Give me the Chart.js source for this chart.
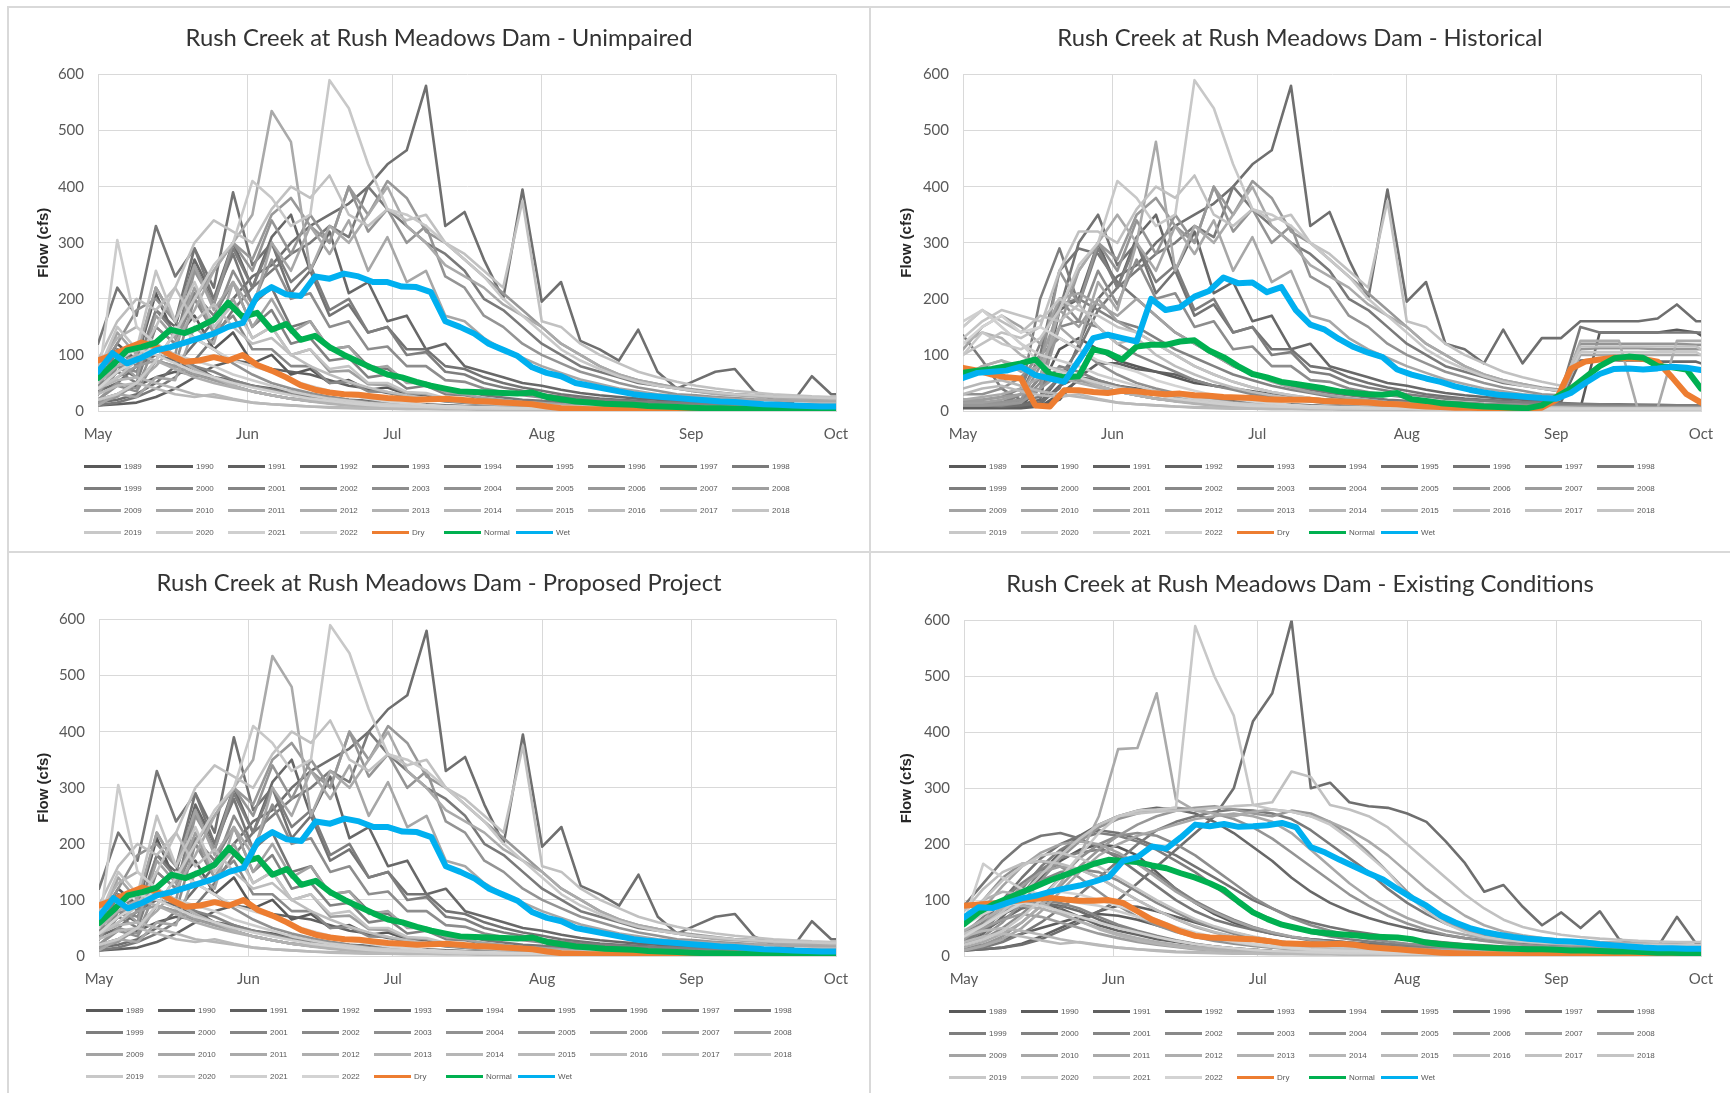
<!DOCTYPE html>
<html>
<head>
<meta charset="utf-8">
<script src="https://cdn.jsdelivr.net/npm/chart.js@4.4.1/dist/chart.umd.min.js"></script>
<style>
  body { margin: 0; width: 1730px; height: 1093px; overflow: hidden; position: relative; background: #fff; font-family: Lato, sans-serif; }
  .frame { position: absolute; box-sizing: border-box; border: 2px solid #d9d9d9; }
  .wrap { position: absolute; }
  .legend { position: absolute; display: grid; grid-template-columns: repeat(10, 72px); grid-auto-rows: 22px; }
  .item { display: flex; align-items: center; font-size: 8px; color: #595959; font-family: "Liberation Sans", sans-serif; white-space: nowrap; }
  .swatch { width: 37px; height: 3px; margin-right: 3px; }
</style>
</head>
<body>
<div class="frame" style="left:7px;top:6px;width:864px;height:547px"></div>
<div class="frame" style="left:869px;top:6px;width:870px;height:547px"></div>
<div class="frame" style="left:7px;top:551px;width:864px;height:550px"></div>
<div class="frame" style="left:869px;top:551px;width:870px;height:550px"></div>

<div class="wrap" style="left:8px;top:7px;width:862px;height:459px"><canvas id="unimpaired"></canvas></div>
<div class="wrap" style="left:870px;top:7px;width:860px;height:459px"><canvas id="historical"></canvas></div>
<div class="wrap" style="left:8px;top:552px;width:862px;height:459px"><canvas id="proposed"></canvas></div>
<div class="wrap" style="left:870px;top:552px;width:860px;height:459px"><canvas id="existing"></canvas></div>

<script>
// x axis: days after May 1
const monthDays = [0, 31, 61, 92, 123, 153];
const monthLabels = ['May', 'Jun', 'Jul', 'Aug', 'Sep', 'Oct'];
const yearLabels = ['1989', '1990', '1991', '1992', '1993', '1994', '1995', '1996', '1997', '1998',
    '1999', '2000', '2001', '2002', '2003', '2004', '2005', '2006', '2007', '2008',
    '2009', '2010', '2011', '2012', '2013', '2014', '2015', '2016', '2017', '2018',
    '2019', '2020', '2021', '2022'];

// sample days for the yearly traces and for the Dry / Normal / Wet traces
const grayDays = [0, 4, 8, 12, 16, 20, 24, 28, 32, 36, 40, 44, 48, 52, 56, 60, 64, 68, 72, 76,
    80, 84, 88, 92, 96, 100, 104, 108, 112, 116, 120, 124, 128, 132, 136, 140, 144, 148, 152, 153];
const keyDays = [0, 3, 6, 9, 12, 15, 18, 21, 24, 27, 30, 33, 36, 39, 42, 45, 48, 51, 54, 57,
    60, 63, 66, 69, 72, 75, 78, 81, 84, 87, 90, 93, 96, 99, 102, 105, 108, 111, 114, 117,
    120, 123, 126, 129, 132, 135, 138, 141, 144, 147, 150, 153];

// ---- Unimpaired (also Proposed Project) flows, cfs ----
const uni1989 = [60,120,90,210,130,170,110,140,85,100, 65,75,50,55,38,42,30,28,22,20, 18,15,13,12,10,9,8,7,6,6, 5,5,5,4,4,4,3,3,3,3];
const uni1990 = [20,30,45,60,70,65,60,50,45,40, 35,30,25,20,18,15,13,12,10,9, 8,7,6,5,5,4,4,3,3,3, 3,3,2,2,2,2,2,2,2,2];
const uni1991 = [10,12,15,25,40,60,80,90,85,75, 70,65,55,45,40,32,28,22,18,15, 13,11,10,9,8,7,6,6,5,5, 5,4,4,4,4,3,3,3,3,3];
const uni1992 = [40,70,90,110,95,80,60,45,35,28, 22,18,15,12,10,9,8,7,6,5, 5,4,4,4,3,3,3,3,2,2, 2,2,2,2,2,2,2,2,2,2];
const uni1993 = [30,80,60,180,150,270,200,300,220,310, 350,250,320,210,230,160,170,110,120,80, 70,60,50,45,38,32,28,25,22,20, 18,16,15,14,13,12,12,11,11,11];
const uni1994 = [35,50,80,100,90,70,60,55,45,38, 30,25,20,17,14,12,10,9,8,7, 6,6,5,5,4,4,4,3,3,3, 3,3,3,3,3,3,3,3,3,3];
const uni1995 = [15,20,30,50,80,120,160,200,240,260, 300,330,350,370,400,440,465,580,330,355, 270,200,395,195,230,125,110,90,145,70, 40,55,70,75,35,20,15,62,30,30];
const uni1996 = [40,110,90,220,160,290,220,390,260,300, 210,250,170,190,140,150,110,110,80,75, 60,50,42,36,30,26,22,20,18,16, 15,14,13,12,12,11,11,10,10,10];
const uni1997 = [120,220,170,330,240,290,200,280,190,220, 150,160,110,115,80,75,55,50,38,36, 28,24,20,18,16,14,13,12,11,10, 10,9,9,8,8,8,7,7,7,7];
const uni1998 = [10,15,25,40,60,90,130,180,220,250, 280,300,330,310,400,360,330,300,280,250, 200,180,150,120,100,80,70,60,50,45, 40,35,32,30,28,26,25,24,24,24];
const uni1999 = [30,70,50,150,120,260,190,290,220,300, 230,260,180,200,140,150,100,105,70,65, 50,42,36,30,26,22,20,18,16,15, 14,13,12,12,11,11,10,10,10,10];
const uni2000 = [50,110,80,180,140,210,170,230,150,180, 120,130,90,95,60,65,40,45,30,28, 22,19,16,14,12,11,10,9,8,8, 7,7,6,6,6,6,5,5,5,5];
const uni2001 = [45,70,100,110,95,80,70,55,45,38, 30,25,20,16,13,11,9,8,7,6, 5,5,4,4,4,3,3,3,3,3, 3,3,2,2,2,2,2,2,2,2];
const uni2002 = [30,80,70,150,120,200,140,170,110,110, 80,80,50,52,35,34,24,22,17,15, 12,10,9,8,7,6,6,5,5,5, 4,4,4,4,4,3,3,3,3,3];
const uni2003 = [20,45,35,90,80,200,160,250,190,270, 200,210,150,160,110,115,80,80,55,52, 40,34,28,24,20,17,15,13,12,11, 10,9,9,8,8,8,7,7,7,7];
const uni2004 = [70,120,180,200,160,130,110,85,65,50, 40,32,25,20,16,13,11,9,8,7, 6,5,5,4,4,4,3,3,3,3, 3,3,3,3,2,2,2,2,2,2];
const uni2005 = [20,50,40,120,100,250,190,300,250,340, 280,350,300,400,320,360,300,330,240,220, 170,150,120,100,85,70,60,50,42,36, 30,28,25,23,21,20,19,18,18,18];
const uni2006 = [15,25,50,90,140,200,250,300,270,350, 380,330,300,400,350,410,380,320,300,270, 240,210,180,150,120,100,80,65,55,48, 42,38,34,30,28,26,25,24,24,24];
const uni2007 = [40,60,80,90,80,65,55,45,35,28, 22,18,14,11,9,8,7,6,5,5, 4,4,4,3,3,3,3,3,2,2, 2,2,2,2,2,2,2,2,2,2];
const uni2008 = [30,90,60,170,130,220,140,200,130,150, 100,110,70,72,48,46,32,30,22,20, 16,13,11,10,9,8,7,6,6,5, 5,5,4,4,4,4,4,4,4,4];
const uni2009 = [60,140,100,220,160,260,180,230,150,200, 140,160,110,115,75,80,50,50,34,30, 23,19,16,14,12,11,10,9,8,8, 7,7,7,6,6,6,6,6,6,6];
const uni2010 = [10,30,25,60,55,150,120,230,180,300, 250,330,280,340,250,310,230,250,170,160, 130,110,95,80,68,56,48,40,35,30, 27,25,23,21,20,19,18,17,17,17];
const uni2011 = [20,30,50,80,120,180,250,300,350,535, 480,250,330,300,350,400,330,300,260,240, 220,190,170,150,120,100,80,65,55,48, 40,35,30,28,26,24,22,21,20,20];
const uni2012 = [50,80,100,90,75,60,50,42,35,28, 22,18,15,12,10,8,7,6,5,5, 4,4,4,3,3,3,3,3,3,3, 3,3,3,3,3,3,3,3,3,3];
const uni2013 = [80,130,150,120,95,75,60,45,35,28, 22,17,13,10,8,7,6,5,5,4, 4,4,3,3,3,3,3,3,3,3, 3,3,3,3,3,3,3,3,3,3];
const uni2014 = [40,55,60,50,40,30,25,20,15,12, 10,8,7,6,5,5,4,4,3,3, 3,3,3,3,2,2,2,2,2,2, 2,2,2,2,2,2,2,2,2,2];
const uni2015 = [30,45,50,40,30,25,30,22,15,12, 10,8,6,5,4,4,3,3,3,3, 2,2,2,2,2,2,2,2,2,2, 2,2,2,2,2,2,2,2,2,2];
const uni2016 = [90,160,200,180,220,160,190,150,120,130, 100,80,65,52,42,34,28,23,19,16, 13,11,10,9,8,7,7,6,6,6, 5,5,5,5,5,5,5,5,5,5];
const uni2017 = [40,60,90,150,220,300,340,320,300,360, 400,380,420,350,330,360,340,350,300,280, 250,220,375,160,150,120,100,85,70,60, 52,45,40,36,33,30,28,26,25,25];
const uni2018 = [70,150,110,250,160,230,150,190,130,150, 100,110,75,80,50,50,34,32,23,21, 16,14,12,10,9,8,8,7,7,6, 6,6,5,5,5,5,5,5,5,5];
const uni2019 = [20,30,50,90,140,200,260,300,410,380, 330,350,590,540,440,360,350,330,300,270, 240,200,170,140,110,90,75,62,52,45, 40,36,33,30,28,26,25,24,23,23];
const uni2020 = [50,305,150,120,100,90,80,65,55,45, 35,28,22,18,14,12,10,8,7,6, 5,5,4,4,4,3,3,3,3,3, 3,3,3,3,3,3,3,3,3,3];
const uni2021 = [60,90,110,100,85,70,60,50,42,35, 28,22,18,14,11,9,8,7,6,5, 5,4,4,4,3,3,3,3,3,3, 3,3,3,3,3,3,3,3,3,3];
const uni2022 = [40,70,90,120,150,130,110,90,80,70, 55,45,36,28,22,17,14,11,9,8, 7,6,5,5,5,4,4,4,4,4, 4,4,4,4,4,4,4,4,4,4];
const uniDry = [90,100,112,122,115,100,88,90,96,90, 100,82,72,60,46,38,33,30,29,26, 23,22,20,21,22,20,18,17,15,14, 12,8,5,4,3,3,2,2,2,2, 1,1,1,1,1,1,1,1,1,1, 1,1];
const uniNormal = [59,82,108,114,122,145,139,150,163,193, 168,175,145,155,127,134,114,100,88,76, 65,60,52,45,40,35,34,33,32,31, 33,25,21,17,15,13,12,11,9,8, 7,6,5,5,4,4,3,3,3,2, 2,2];
const uniWet = [70,103,85,95,108,114,122,130,138,150, 157,205,221,208,205,240,236,245,240,230, 230,222,221,212,160,150,138,120,109,98, 78,68,62,50,45,40,35,30,27,25, 23,21,19,17,16,14,12,11,10,9, 8,8];

// ---- Historical flows, cfs ----
const his1989 = [12,8,6,10,40,110,130,110,90,80, 70,60,50,45,40,35,30,25,22,20, 18,15,13,12,10,9,8,7,6,6, 5,5,5,140,140,140,140,145,140,135];
const his1990 = [5,5,5,5,8,30,55,50,45,40, 35,30,25,20,18,15,13,12,10,9, 8,7,6,5,5,4,4,3,3,3, 3,3,3,3,3,3,3,3,3,3];
const his1991 = [8,8,8,8,10,20,60,85,85,75, 70,65,55,45,40,32,28,22,18,15, 13,11,10,9,8,7,6,6,5,5, 5,4,4,4,4,3,3,3,3,3];
const his1992 = [10,10,10,10,12,45,60,45,35,28, 22,18,15,12,10,9,8,7,6,5, 5,4,4,4,3,3,3,3,2,2, 2,2,2,2,2,2,2,2,2,2];
const his1993 = [15,10,10,12,20,180,200,300,220,310, 350,250,320,210,230,160,170,110,120,80, 70,60,50,45,38,32,28,25,22,20, 18,16,90,92,90,90,88,88,88,85];
const his1994 = [10,10,10,12,15,60,60,55,45,38, 30,25,20,17,14,12,10,9,8,7, 6,6,5,5,4,4,4,3,3,3, 3,3,3,3,3,3,3,3,3,3];
const his1995 = [15,10,8,10,15,40,120,200,240,260, 300,330,350,370,400,440,465,580,330,355, 270,200,395,195,230,120,110,85,145,85, 130,130,160,160,160,160,165,190,160,160];
const his1996 = [10,10,12,20,60,180,300,350,260,300, 210,250,170,190,140,150,110,110,80,75, 60,50,42,36,30,26,22,20,18,16, 15,14,13,12,12,11,11,10,10,10];
const his1997 = [10,12,15,30,100,250,290,280,230,200, 170,140,120,100,80,65,55,45,38,32, 28,24,20,18,16,14,13,12,11,10, 10,9,9,8,8,8,7,7,7,7];
const his1998 = [135,90,40,20,25,60,110,180,220,250, 280,300,330,310,400,360,330,300,280,250, 200,180,150,120,100,80,70,60,50,45, 40,35,150,140,140,140,140,140,140,140];
const his1999 = [10,10,12,30,200,290,190,290,220,300, 230,260,180,200,140,150,100,105,70,65, 50,42,36,30,26,22,20,18,16,15, 14,13,12,12,11,11,10,10,10,10];
const his2000 = [20,20,25,40,120,190,200,180,160,150, 130,110,95,80,65,55,45,38,32,26, 22,19,16,14,12,11,10,9,8,8, 7,7,6,6,6,6,5,5,5,5];
const his2001 = [15,15,15,20,40,80,70,55,45,38, 30,25,20,16,13,11,9,8,7,6, 5,5,4,4,4,3,3,3,3,3, 3,3,2,2,2,2,2,2,2,2];
const his2002 = [10,10,12,20,60,150,160,150,120,100, 85,70,55,45,38,30,25,20,17,14, 12,10,9,8,7,6,6,5,5,5, 4,4,4,4,4,3,3,3,3,3];
const his2003 = [10,10,10,15,50,200,160,250,190,270, 200,210,150,160,110,115,80,80,55,52, 40,34,28,24,20,17,15,13,12,11, 10,9,9,8,8,8,7,7,7,7];
const his2004 = [30,30,40,60,100,130,110,85,65,50, 40,32,25,20,16,13,11,9,8,7, 6,5,5,4,4,4,3,3,3,3, 3,3,3,3,2,2,2,2,2,2];
const his2005 = [15,15,15,20,80,250,190,300,250,340, 280,350,300,400,320,360,300,330,240,220, 170,150,120,100,85,70,60,50,42,36, 30,28,120,120,120,120,120,120,118,118];
const his2006 = [10,10,12,15,40,150,250,300,270,350, 380,330,300,400,350,410,380,320,300,270, 240,210,180,150,120,100,80,65,55,48, 42,38,110,112,112,112,110,110,110,110];
const his2007 = [20,20,25,30,40,65,55,45,35,28, 22,18,14,11,9,8,7,6,5,5, 4,4,4,3,3,3,3,3,2,2, 2,2,2,2,2,2,2,2,2,2];
const his2008 = [15,15,20,30,90,180,150,200,160,140, 120,100,80,65,52,42,34,28,23,19, 16,13,11,10,9,8,7,6,6,5, 5,5,4,4,4,4,4,4,4,4];
const his2009 = [110,150,170,150,120,200,210,190,170,200, 170,140,120,100,80,65,52,42,34,28, 23,19,16,14,12,11,10,9,8,8, 7,7,7,6,6,6,6,6,6,6];
const his2010 = [60,80,90,70,80,150,120,230,180,300, 250,330,280,340,250,310,230,250,170,160, 130,110,95,80,68,56,48,40,35,30, 27,25,100,100,100,100,100,100,100,100];
const his2011 = [20,25,30,40,60,180,250,300,350,300, 480,250,330,300,350,400,330,300,260,240, 220,190,170,150,120,100,80,65,55,48, 40,35,125,125,125,0,5,125,125,125];
const his2012 = [60,80,90,80,60,60,50,42,35,28, 22,18,15,12,10,8,7,6,5,5, 4,4,4,3,3,3,3,3,3,3, 3,3,3,3,3,3,3,3,3,3];
const his2013 = [120,140,130,100,80,75,60,45,35,28, 22,17,13,10,8,7,6,5,5,4, 4,4,3,3,3,3,3,3,3,3, 3,3,3,3,3,3,3,3,3,3];
const his2014 = [40,50,55,45,35,30,25,20,15,12, 10,8,7,6,5,5,4,4,3,3, 3,3,3,3,2,2,2,2,2,2, 2,2,2,2,2,2,2,2,2,2];
const his2015 = [30,40,45,35,28,25,30,22,15,12, 10,8,6,5,4,4,3,3,3,3, 2,2,2,2,2,2,2,2,2,2, 2,2,2,2,2,2,2,2,2,2];
const his2016 = [150,180,160,140,170,160,190,150,120,130, 100,80,65,52,42,34,28,23,19,16, 13,11,10,9,8,7,7,6,6,6, 5,5,5,5,5,5,5,5,5,5];
const his2017 = [100,120,140,130,150,250,320,320,300,360, 400,380,420,350,330,360,340,350,300,280, 250,220,375,160,150,120,100,85,70,60, 52,45,115,115,115,115,115,115,115,110];
const his2018 = [130,160,180,170,160,200,180,170,150,140, 120,100,80,65,52,42,34,28,23,19, 16,14,12,10,9,8,8,7,7,6, 6,6,5,5,5,5,5,5,5,5];
const his2019 = [100,140,120,110,130,180,260,300,410,380, 330,350,590,540,440,360,350,330,300,270, 240,200,170,140,110,90,75,62,52,45, 40,36,105,105,105,105,105,105,105,100];
const his2020 = [150,180,150,120,100,90,80,65,55,45, 35,28,22,18,14,12,10,8,7,6, 5,5,4,4,4,3,3,3,3,3, 3,3,3,3,3,3,3,3,3,3];
const his2021 = [160,180,150,120,85,70,60,50,42,35, 28,22,18,14,11,9,8,7,6,5, 5,4,4,4,3,3,3,3,3,3, 3,3,3,3,3,3,3,3,3,3];
const his2022 = [120,150,170,140,150,130,110,90,80,70, 55,45,36,28,22,17,14,11,9,8, 7,6,5,5,5,4,4,4,4,4, 4,4,4,4,4,4,4,4,4,4];
const hisDry = [77,72,65,60,58,10,8,37,37,34, 32,36,35,32,30,31,28,27,25,24, 23,21,20,20,20,18,17,16,15,13, 12,10,8,7,6,6,5,5,5,5, 6,20,75,88,92,95,94,93,88,60, 30,15];
const hisNormal = [68,72,75,80,85,92,66,60,62,110, 104,92,115,118,118,124,126,108,96,80, 66,60,52,48,44,40,35,32,30,29, 32,21,18,14,12,10,8,7,6,5, 10,25,40,60,80,94,97,95,80,78, 74,40];
const hisWet = [59,68,70,72,79,64,58,52,90,130, 136,130,124,200,180,185,204,214,238,228, 229,212,221,180,154,145,128,114,104,96, 74,65,58,52,44,38,33,29,27,25, 23,22,32,50,66,75,76,74,76,79, 77,73];

// ---- Existing Conditions flows, cfs ----
const ext1989 = [30,50,80,110,140,170,190,200,195,180, 150,120,95,75,60,48,40,34,30,27, 24,22,20,18,16,14,13,12,11,10, 10,9,9,8,8,8,7,7,7,7];
const ext1990 = [15,20,30,40,50,60,70,75,72,65, 55,45,38,30,25,20,17,14,12,10, 9,8,7,6,6,5,5,4,4,4, 4,3,3,3,3,3,3,3,3,3];
const ext1991 = [10,12,15,22,35,50,65,80,90,88, 80,70,60,50,42,34,28,23,19,16, 14,12,10,9,8,7,7,6,6,5, 5,5,4,4,4,4,4,4,4,4];
const ext1992 = [35,55,75,90,95,85,70,55,45,38, 30,25,20,16,13,11,9,8,7,6, 5,5,4,4,4,3,3,3,3,3, 3,3,3,3,3,3,3,3,3,3];
const ext1993 = [20,40,70,110,150,185,215,235,250,260, 265,262,255,240,220,195,170,140,115,95, 80,68,58,50,43,37,32,28,25,22, 20,18,17,16,15,14,13,13,12,12];
const ext1994 = [30,45,65,85,95,90,80,65,52,42, 34,27,21,17,14,11,9,8,7,6, 5,5,4,4,4,4,3,3,3,3, 3,3,3,3,3,3,3,3,3,3];
const ext1995 = [10,12,15,20,30,45,60,80,100,130, 160,190,220,250,300,420,470,600,300,310, 275,268,265,255,240,205,166,115,127,88, 55,78,50,80,30,20,16,70,22,25];
const ext1996 = [30,60,100,140,175,200,215,225,220,210, 195,180,160,140,120,100,85,70,60,52, 45,40,35,30,27,24,21,19,17,16, 15,14,13,12,12,11,11,10,10,10];
const ext1997 = [90,130,170,200,215,220,210,195,175,150, 125,100,80,65,55,47,40,34,30,27, 24,21,19,17,15,14,13,12,11,10, 10,9,9,8,8,8,7,7,7,7];
const ext1998 = [10,15,25,40,60,85,110,140,170,200, 225,240,250,258,262,260,255,245,225,200, 175,150,120,95,75,58,45,36,30,26, 24,22,20,19,18,17,17,16,16,16];
const ext1999 = [25,45,80,120,160,190,210,220,215,205, 190,170,150,125,100,80,65,52,42,35, 30,26,22,19,17,15,13,12,11,10, 10,9,9,8,8,8,8,8,8,8];
const ext2000 = [40,70,100,130,155,175,185,190,180,165, 145,120,98,80,65,52,42,34,28,23, 19,16,14,12,10,9,8,8,7,7, 6,6,6,5,5,5,5,5,5,5];
const ext2001 = [40,60,80,95,100,95,85,70,56,45, 36,28,22,17,14,11,9,8,7,6, 5,5,4,4,4,3,3,3,3,3, 3,3,3,3,3,3,3,3,3,3];
const ext2002 = [30,50,80,110,135,150,155,150,135,115, 95,78,62,50,40,32,26,21,17,14, 12,10,9,8,7,6,6,5,5,5, 4,4,4,4,4,4,4,4,4,4];
const ext2003 = [20,30,50,75,105,140,175,200,215,220, 215,200,180,155,130,105,85,68,55,45, 37,31,26,22,19,16,14,13,12,11, 10,10,9,9,9,8,8,8,8,8];
const ext2004 = [60,100,140,165,170,160,140,115,90,70, 55,43,34,27,22,18,15,12,10,9, 8,7,6,5,5,4,4,4,4,3, 3,3,3,3,3,3,3,3,3,3];
const ext2005 = [20,35,60,95,135,175,205,230,245,255, 262,265,262,255,245,230,210,185,160,135, 110,90,72,58,47,38,32,27,23,20, 18,16,15,14,13,12,12,11,11,11];
const ext2006 = [10,20,35,60,90,125,160,190,215,235, 250,260,265,268,262,255,250,260,255,240, 215,185,150,115,85,62,46,36,30,26, 23,21,19,18,17,16,16,15,15,15];
const ext2007 = [35,50,65,75,70,60,50,40,32,25, 20,16,12,10,8,7,6,5,5,4, 4,4,3,3,3,3,3,3,2,2, 2,2,2,2,2,2,2,2,2,2];
const ext2008 = [30,55,90,125,150,160,155,140,120,100, 82,66,52,42,34,28,23,19,16,13, 11,10,9,8,7,6,6,5,5,5, 5,5,4,4,4,4,4,4,4,4];
const ext2009 = [55,85,125,160,185,200,205,200,185,165, 140,115,95,78,63,51,42,35,29,25, 21,18,16,14,12,11,10,9,9,8, 8,7,7,7,7,6,6,6,6,6];
const ext2010 = [10,18,30,50,80,115,150,180,200,215, 225,235,245,250,255,250,240,220,190,160, 130,105,85,68,55,45,38,32,28,25, 23,21,20,19,18,18,17,17,17,17];
const ext2011 = [15,25,40,60,90,130,180,250,370,372, 470,280,260,255,250,258,262,258,250,240, 225,205,180,150,120,95,72,55,44,37, 32,29,27,25,24,23,22,21,20,20];
const ext2012 = [45,65,85,90,85,75,62,50,40,32, 25,20,16,13,10,8,7,6,5,5, 4,4,4,3,3,3,3,3,3,3, 3,3,3,3,3,3,3,3,3,3];
const ext2013 = [70,100,115,110,95,78,62,48,37,28, 22,17,13,10,8,7,6,5,5,4, 4,4,3,3,3,3,3,3,3,3, 3,3,3,3,3,3,3,3,3,3];
const ext2014 = [35,45,50,45,38,30,24,19,15,12, 10,8,7,6,5,5,4,4,3,3, 3,3,3,3,2,2,2,2,2,2, 2,2,2,2,2,2,2,2,2,2];
const ext2015 = [25,35,40,35,28,22,25,20,15,12, 9,7,6,5,4,4,3,3,3,3, 2,2,2,2,2,2,2,2,2,2, 2,2,2,2,2,2,2,2,2,2];
const ext2016 = [80,120,150,165,170,165,155,140,120,100, 82,66,53,43,35,28,23,19,16,13, 11,10,9,8,7,7,6,6,6,6, 5,5,5,5,5,5,5,5,5,5];
const ext2017 = [40,55,80,110,145,180,210,235,250,255, 258,260,262,265,268,270,275,330,320,270, 262,250,230,200,170,140,110,85,65,52, 44,38,34,31,29,27,26,25,25,25];
const ext2018 = [65,100,135,160,180,185,175,160,140,120, 100,82,66,53,43,35,28,23,19,16, 14,12,10,9,8,8,7,7,6,6, 6,6,5,5,5,5,5,5,5,5];
const ext2019 = [20,30,45,70,100,140,180,220,250,260, 262,265,590,500,430,270,262,258,250,235, 210,180,150,110,80,58,43,34,29,26, 24,23,22,21,21,20,20,19,19,19];
const ext2020 = [60,165,140,120,110,100,95,90,80,70, 60,50,40,32,25,20,16,13,11,9, 8,7,6,5,5,4,4,4,3,3, 3,3,3,3,3,3,3,3,3,3];
const ext2021 = [55,75,90,95,90,80,70,60,50,42, 34,27,21,17,14,11,9,8,7,6, 5,5,4,4,4,3,3,3,3,3, 3,3,3,3,3,3,3,3,3,3];
const ext2022 = [35,55,75,95,110,115,110,100,90,78, 65,52,42,34,27,22,18,15,12,10, 9,8,7,6,6,5,5,5,4,4, 4,4,4,4,4,4,4,4,4,4];
const extDry = [90,92,94,97,100,103,104,101,99,99, 100,95,80,65,55,44,36,33,32,31, 30,27,23,22,21,21,22,20,16,14, 12,10,8,6,5,4,3,3,2,2, 2,2,1,1,1,1,1,1,1,1, 1,1];
const extNormal = [57,78,92,103,114,125,136,145,155,165, 172,170,168,162,157,148,140,130,118,97, 78,66,56,50,44,41,39,37,35,34, 33,30,24,21,19,17,15,14,13,12, 12,11,10,10,9,8,8,7,6,6, 5,5];
const extWet = [69,87,86,95,103,108,115,121,126,133, 141,170,177,196,192,212,235,232,236,231, 232,234,238,230,195,185,172,160,148,137, 120,104,90,72,60,50,43,38,34,31, 29,27,26,24,21,19,17,15,14,14, 13,13];

const uniYears = [uni1989, uni1990, uni1991, uni1992, uni1993, uni1994, uni1995, uni1996, uni1997, uni1998,
    uni1999, uni2000, uni2001, uni2002, uni2003, uni2004, uni2005, uni2006, uni2007, uni2008,
    uni2009, uni2010, uni2011, uni2012, uni2013, uni2014, uni2015, uni2016, uni2017, uni2018,
    uni2019, uni2020, uni2021, uni2022];
const hisYears = [his1989, his1990, his1991, his1992, his1993, his1994, his1995, his1996, his1997, his1998,
    his1999, his2000, his2001, his2002, his2003, his2004, his2005, his2006, his2007, his2008,
    his2009, his2010, his2011, his2012, his2013, his2014, his2015, his2016, his2017, his2018,
    his2019, his2020, his2021, his2022];
const extYears = [ext1989, ext1990, ext1991, ext1992, ext1993, ext1994, ext1995, ext1996, ext1997, ext1998,
    ext1999, ext2000, ext2001, ext2002, ext2003, ext2004, ext2005, ext2006, ext2007, ext2008,
    ext2009, ext2010, ext2011, ext2012, ext2013, ext2014, ext2015, ext2016, ext2017, ext2018,
    ext2019, ext2020, ext2021, ext2022];

const dryColor = '#ED7D31';
const normalColor = '#00B050';
const wetColor = '#00B0F0';

// 1989 darkest -> 2022 lightest
function grayColor(i) {
    const v = Math.round(89 + i * 3.7);
    return `rgb(${v},${v},${v})`;
}

function points(days, vals, name) {
    if (vals.length !== days.length) throw new Error('length mismatch in ' + name + ': ' + vals.length);
    return vals.map((v, i) => ({ x: days[i], y: v }));
}

function buildChart(id, title, years, dry, normal, wet, cfg) {
    const datasets = years.map((vals, i) => ({
        label: yearLabels[i],
        data: points(grayDays, vals, id + ' ' + yearLabels[i]),
        borderColor: grayColor(i),
        borderWidth: 2.6,
        order: 10 + (years.length - i)
    }));
    datasets.push({ label: 'Dry', data: points(keyDays, dry, id + ' dry'), borderColor: dryColor, borderWidth: 6, order: 3 });
    datasets.push({ label: 'Normal', data: points(keyDays, normal, id + ' normal'), borderColor: normalColor, borderWidth: 6, order: 2 });
    datasets.push({ label: 'Wet', data: points(keyDays, wet, id + ' wet'), borderColor: wetColor, borderWidth: 6, order: 1 });

    const tickFont = { family: 'Lato', size: 15 };
    new Chart(document.getElementById(id), {
        type: 'line',
        data: { datasets },
        options: {
            responsive: true,
            maintainAspectRatio: false,
            animation: false,
            events: [],
            layout: { padding: { left: 0, right: 0, top: 0, bottom: 9 } },
            elements: {
                point: { radius: 0 },
                line: { tension: 0, borderJoinStyle: 'round', borderCapStyle: 'round' }
            },
            plugins: {
                legend: { display: false },
                tooltip: { enabled: false },
                title: {
                    display: true,
                    text: title,
                    color: '#333333',
                    font: { family: 'Lato', size: 23.8, weight: 'normal' },
                    padding: { top: cfg.titleTop, bottom: cfg.titleBottom }
                }
            },
            scales: {
                x: {
                    type: 'linear',
                    min: 0,
                    max: 153,
                    afterBuildTicks: s => { s.ticks = monthDays.map(v => ({ value: v })); },
                    ticks: {
                        callback: v => monthLabels[monthDays.indexOf(v)],
                        color: '#595959',
                        font: tickFont,
                        padding: 14,
                        maxRotation: 0,
                        autoSkip: false
                    },
                    grid: { color: '#d9d9d9', drawTicks: false },
                    border: { color: '#d9d9d9' }
                },
                y: {
                    min: 0,
                    max: 600,
                    afterFit: s => { s.width = cfg.yWidth; },
                    ticks: { stepSize: 100, color: '#595959', font: tickFont, padding: 14 },
                    grid: { color: '#d9d9d9', drawTicks: false },
                    border: { color: '#d9d9d9' },
                    title: {
                        display: true,
                        text: 'Flow (cfs)',
                        color: '#262626',
                        font: { family: 'Liberation Sans', size: 15, weight: 'bold' },
                        padding: { top: cfg.yTitlePad, bottom: 0 }
                    }
                },
                // empty strip on the right so the title stays centred on the whole panel
                gap: {
                    position: 'right',
                    afterFit: s => { s.width = cfg.padRight; },
                    ticks: { display: false },
                    grid: { display: false },
                    border: { display: false }
                }
            }
        }
    });

    // legend laid out as the 10-column grid of the original
    const box = document.createElement('div');
    box.className = 'legend';
    box.style.left = cfg.legendLeft + 'px';
    box.style.top = cfg.legendTop + 'px';
    const entries = yearLabels.map((y, i) => [y, grayColor(i)])
        .concat([['Dry', dryColor], ['Normal', normalColor], ['Wet', wetColor]]);
    entries.forEach(([label, color]) => {
        const item = document.createElement('div');
        item.className = 'item';
        const sw = document.createElement('span');
        sw.className = 'swatch';
        sw.style.background = color;
        const tx = document.createElement('span');
        tx.textContent = label;
        item.appendChild(sw);
        item.appendChild(tx);
        box.appendChild(item);
    });
    document.body.appendChild(box);
}

buildChart('unimpaired', 'Rush Creek at Rush Meadows Dam - Unimpaired', uniYears, uniDry, uniNormal, uniWet,
    { yWidth: 90, padRight: 34, titleTop: 17, titleBottom: 22, yTitlePad: 27, legendLeft: 84, legendTop: 455 });
buildChart('historical', 'Rush Creek at Rush Meadows Dam - Historical', hisYears, hisDry, hisNormal, hisWet,
    { yWidth: 93, padRight: 29, titleTop: 17, titleBottom: 22, yTitlePad: 28, legendLeft: 949, legendTop: 455 });
buildChart('proposed', 'Rush Creek at Rush Meadows Dam - Proposed Project', uniYears, uniDry, uniNormal, uniWet,
    { yWidth: 91, padRight: 34, titleTop: 17, titleBottom: 22, yTitlePad: 27, legendLeft: 86, legendTop: 999 });
buildChart('existing', 'Rush Creek at Rush Meadows Dam - Existing Conditions', extYears, extDry, extNormal, extWet,
    { yWidth: 94, padRight: 29, titleTop: 18, titleBottom: 22, yTitlePad: 28, legendLeft: 949, legendTop: 1000 });
</script>
</body>
</html>
